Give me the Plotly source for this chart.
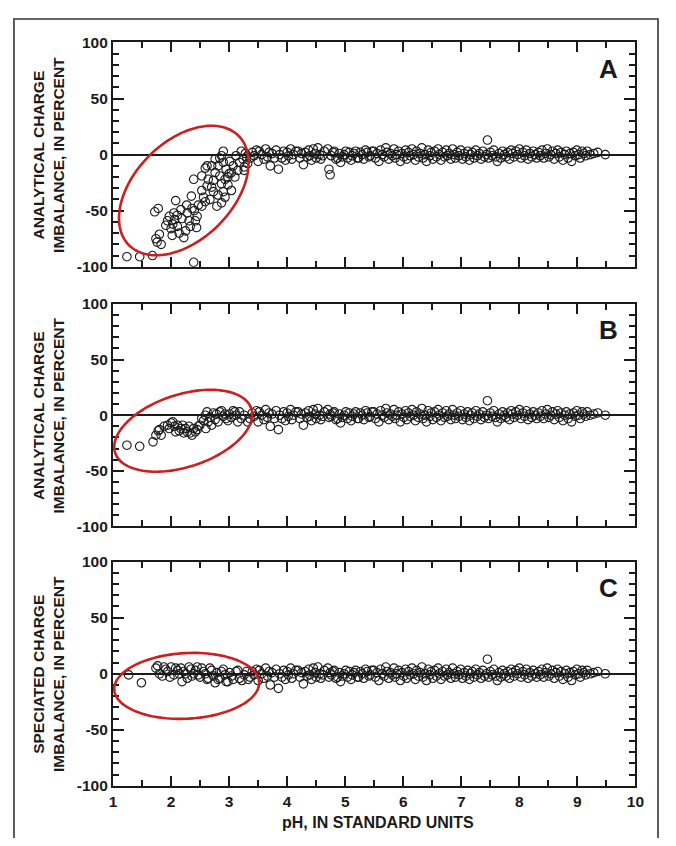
import numpy as np
import plotly.graph_objects as go

# ---------------- data (pH, charge imbalance %) ----------------
# high-pH samples, identical in all three panels
flat_ph = [3.36, 3.40, 3.43, 3.47, 3.50, 3.52, 3.56, 3.60, 3.63, 3.66, 3.69, 3.71, 3.74, 3.78, 3.81,
           3.85, 3.87, 3.91, 3.94, 3.97, 4.00, 4.02, 4.06, 4.08, 4.11, 4.15, 4.19, 4.22, 4.25, 4.28,
           4.31, 4.34, 4.37, 4.39, 4.42, 4.45, 4.48, 4.50, 4.53, 4.56, 4.58, 4.61, 4.64, 4.70,
           4.76, 4.79, 4.81, 4.84, 4.87, 4.90, 4.92, 4.95, 4.98, 5.01, 5.04, 5.07, 5.10, 5.12,
           5.15, 5.18, 5.21, 5.23, 5.26, 5.29, 5.32, 5.35, 5.38, 5.41, 5.43, 5.46, 5.49, 5.52, 5.55,
           5.58, 5.61, 5.64, 5.67, 5.70, 5.72, 5.75, 5.78, 5.81, 5.84, 5.86, 5.89, 5.92, 5.95, 5.98,
           6.01, 6.04, 6.06, 6.09, 6.12, 6.15, 6.18, 6.21, 6.23, 6.26, 6.29, 6.32, 6.34, 6.37, 6.40,
           6.43, 6.46, 6.48, 6.51, 6.54, 6.57, 6.60, 6.62, 6.65, 6.68, 6.71, 6.74, 6.76, 6.79, 6.82,
           6.85, 6.88, 6.90, 6.93, 6.96, 6.99, 7.02, 7.05, 7.08, 7.11, 7.14, 7.16, 7.19, 7.22, 7.25,
           7.28, 7.31, 7.34, 7.37, 7.40, 7.43, 7.45, 7.47, 7.50, 7.53, 7.56, 7.59, 7.62, 7.65, 7.68,
           7.71, 7.74, 7.77, 7.80, 7.83, 7.86, 7.88, 7.91, 7.94, 7.97, 8.00, 8.03, 8.06, 8.09, 8.12,
           8.15, 8.18, 8.21, 8.24, 8.27, 8.30, 8.33, 8.36, 8.39, 8.42, 8.45, 8.48, 8.51, 8.54, 8.57,
           8.60, 8.63, 8.66, 8.69, 8.72, 8.75, 8.78, 8.81, 8.84, 8.87, 8.90, 8.93, 8.96, 8.99, 9.02,
           9.05, 9.08, 9.11, 9.14, 9.17, 9.22, 9.28, 9.35, 9.48]
flat_ci = [-3, 2, -1, 4, -6, 3, 0, -4, 5, -2, 2, -10, 1, -3, 4,
           -13, 0, -3, 3, -5, 2, -1, 5, -4, 0, 3, 3, -3, 1, -9,
           2, -2, 4, -1, -5, 5, 1, -3, 6, 0, -4, -1, 3, 5,
           -1, 2, 3, -4, -3, 1, -7, -2, 0, 3, -3, 2, -5, -1,
           1, 3, -3, -3, 2, 0, -4, 4, 2, -2, -1, 3, 3, -3, 1,
           -6, 4, 0, -2, 6, 2, -4, 1, -1, 5, -3, 0, 3, -6, 1,
           -2, 4, -4, 2, -1, 5, 0, -5, 3, -2, 1, 6, -3, 0, -6,
           4, -1, 2, -4, 3, -2, 5, 0, -5, 2, -2, 4, -1, 1, -4,
           5, 0, -3, 2, -1, 4, -4, 1, -2, 3, -5, 0, 2, -3, 4,
           -1, 1, -4, 3, -2, 0, 13, -3, 2, -1, 4, -2, -6, 1, -3,
           3, 0, -2, 2, -4, 4, 1, -2, 3, 0, 5, -3, 2, -1, 4,
           -4, 1, -2, 3, 0, -3, 2, -1, 4, -3, 1, 5, -2, 0, 3,
           -4, 1, 4, -2, 2, -5, 0, 3, -3, 1, -6, 2, -1, 4, 0,
           -3, 3, 1, -1, 3, 0, 1, 2, 0]

# low-pH samples (plus the two pH-4.7 outliers), panel A (analytical, original)
a_ph = [1.24, 1.46, 1.68, 2.39, 1.72, 1.78, 1.74, 1.83, 1.80, 1.76,
        1.94, 1.97, 2.03, 2.11, 2.17, 2.28, 2.31, 2.25, 2.22, 2.11,
        2.42, 2.45, 2.36, 2.47, 2.53, 2.59, 2.56, 2.53, 2.08, 2.35,
        2.39, 2.53, 2.62, 2.00, 2.06, 2.14, 2.19, 2.33, 2.40, 2.02,
        2.70, 2.73, 2.76, 2.81, 2.84, 2.87, 2.90, 2.81, 2.73, 2.87,
        2.93, 2.79, 3.04, 2.98, 2.90, 2.95, 3.01, 3.07, 3.12, 3.18,
        3.21, 3.24, 3.26, 2.90, 2.87, 2.98, 3.04, 2.93, 2.70, 2.59,
        2.76, 2.64, 2.67, 2.62, 3.15, 3.10, 3.30, 3.32, 3.28, 3.26,
        1.91, 2.05, 2.27, 2.44, 2.84, 3.00, 4.72, 4.74]
a_ci = [-91, -91, -90, -96, -51, -48, -75, -80, -71, -78,
        -59, -55, -62, -54, -49, -52, -59, -68, -74, -64,
        -59, -55, -48, -45, -46, -42, -38, -32, -41, -37,
        -22, -19, -10, -66, -58, -70, -57, -64, -50, -72,
        -29, -23, -16, -10, -19, -26, -33, -36, -33, -43,
        -38, -46, -32, -27, -7, -13, -6, -10, -1, -7,
        3, -4, -11, 3, -1, -20, -16, -22, -10, -12,
        -4, -22, -40, -28, -14, -20, -2, -8, 1, -14,
        -63, -52, -45, -65, -3, -17, -13, -18]

# low-pH samples, panel B (analytical, revised)
b_ph = [1.24, 1.46, 1.69, 1.74, 1.78, 1.80, 1.83, 1.94, 2.00, 2.06,
        2.11, 2.17, 2.22, 2.28, 2.33, 2.39, 2.45, 2.50, 2.53, 2.59,
        2.64, 2.70, 2.76, 2.78, 2.84, 2.90, 2.95, 3.01, 3.07, 3.12,
        3.18, 3.21, 3.15, 3.26, 3.32, 2.03, 2.14, 2.20, 2.25, 2.36,
        2.42, 2.47, 2.56, 2.62, 2.67, 2.73, 2.81, 2.87, 2.93, 2.98,
        3.04, 3.10, 2.60, 2.31, 1.97, 1.88, 2.08, 4.72, 4.74]
b_ci = [-27, -28, -24, -18, -14, -13, -18, -9, -7, -10,
        -9, -12, -16, -15, -16, -12, -13, -9, -3, 0,
        -6, -9, -4, 1, 3, -1, -3, 1, 4, 0,
        3, -3, -6, 0, -6, -6, -14, -9, -12, -18,
        -15, -10, -5, 3, -2, 2, -6, 4, 1, -5,
        -2, 3, -12, -10, -12, -10, -15, -2, 1]

# low-pH samples, panel C (speciated)
c_ph = [1.27, 1.49, 1.74, 1.80, 1.88, 1.94, 2.00, 2.05, 2.11, 2.19,
        2.17, 2.25, 2.31, 2.36, 2.42, 2.47, 2.53, 2.59, 2.64, 2.70,
        2.76, 2.81, 2.87, 2.93, 2.98, 3.04, 3.12, 3.18, 3.26, 3.33,
        1.77, 1.85, 1.91, 1.98, 2.08, 2.14, 2.22, 2.28, 2.34, 2.39,
        2.45, 2.50, 2.56, 2.62, 2.67, 2.73, 2.79, 2.84, 2.90, 2.95,
        3.01, 3.07, 3.15, 3.22, 3.30, 4.72, 4.74]
c_ci = [-1, -8, 5, 0, 6, 2, 6, -1, 3, -7,
        5, 0, 6, -2, 3, -1, 5, 0, -4, 3,
        -8, -5, 2, -1, -7, -2, 2, -4, -1, -5,
        7, -2, 4, -3, 5, 0, 2, -4, 4, 0,
        6, -3, 2, -5, 5, -2, 1, -4, 4, -7,
        1, -5, 3, -6, 2, -3, 1]

# axis tick labels (plain hyphen minus, as in the original)
y_tickvals = [-100, -50, 0, 50, 100]
y_ticktext = ["-100", "-50", "0", "50", "100"]

y_titles = ["ANALYTICAL CHARGE<br>IMBALANCE, IN PERCENT",
            "ANALYTICAL CHARGE<br>IMBALANCE, IN PERCENT",
            "SPECIATED CHARGE<br>IMBALANCE, IN PERCENT"]
panel_letters = ["A", "B", "C"]
x_title = "pH, IN STANDARD UNITS"

# ellipse highlights: centre (pH, %), semi-axes in px, tilt in degrees
ellipses = [(2.22, -32.0, 79, 50, 45),
            (2.21, -14.0, 73, 37, 18),
            (2.27, -10.8, 74, 33.5, 3)]

# ---------------- layout geometry ----------------
# the page body keeps its default 8px margin, so the figure is sized to
# fill the 676x846 window exactly and all page positions are offset by it
PAGE_W, PAGE_H = 676, 846
OFF = 8
W, H = PAGE_W - 2 * OFF, PAGE_H - 2 * OFF


def px(xp):
    return (xp - OFF) / W


def py(yp):
    return 1 - (yp - OFF) / H


X0, X1 = 111, 644
rows = [(34, 263), (301, 528), (564, 793)]
FONT = "Liberation Sans, Arial, Helvetica, sans-serif"
INK = "#1a1a1a"
RED = "#cc1f1f"

fig = go.Figure()
datasets = [(a_ph + flat_ph, a_ci + flat_ci),
            (b_ph + flat_ph, b_ci + flat_ci),
            (c_ph + flat_ph, c_ci + flat_ci)]

shapes = []
annotations = []
xdom = [px(X0), px(X1)]
tickfont = dict(family=FONT, size=15.5, color=INK, weight="bold")
for i, ((top, bot), (xs, ys)) in enumerate(zip(rows, datasets)):
    n = "" if i == 0 else str(i + 1)
    fig.add_trace(go.Scatter(
        x=xs, y=ys, mode="markers", xaxis="x" + n, yaxis="y" + n,
        marker=dict(symbol="circle-open", size=8.5, color=INK, line=dict(width=1.1, color=INK)),
        showlegend=False, hoverinfo="x+y"))
    ydom = [py(bot), py(top)]
    last = i == 2
    fig.layout["xaxis" + n] = dict(
        domain=xdom, anchor="y" + n, range=[1, 10], dtick=1, tick0=1,
        ticks="inside", ticklen=10, tickwidth=2, tickcolor=INK,
        minor=dict(dtick=0.5, ticks="inside", ticklen=6, tickwidth=1.6, tickcolor=INK),
        showline=True, linewidth=2, linecolor=INK, mirror="allticks",
        showgrid=False, zeroline=False, showticklabels=last,
        tickfont=tickfont, fixedrange=True)
    fig.layout["yaxis" + n] = dict(
        domain=ydom, anchor="x" + n, range=[-100, 100],
        tickmode="array", tickvals=y_tickvals, ticktext=y_ticktext,
        ticks="inside", ticklen=11, tickwidth=2, tickcolor=INK,
        minor=dict(dtick=10, tick0=0, ticks="inside", ticklen=6, tickwidth=1.6, tickcolor=INK),
        showline=True, linewidth=2, linecolor=INK, mirror="allticks",
        showgrid=False, zeroline=True, zerolinecolor=INK, zerolinewidth=2,
        tickfont=tickfont, fixedrange=True)

    # red highlight ellipse, built in pixel space then mapped to data units
    cx, cy, a, b, ang = ellipses[i]
    sx = (X1 - X0) / 9.0
    sy = (bot - top) / 200.0
    t = np.linspace(0, 2 * np.pi, 121)
    th = np.radians(ang)
    dx = a * np.cos(t) * np.cos(th) - b * np.sin(t) * np.sin(th)
    dy = a * np.cos(t) * np.sin(th) + b * np.sin(t) * np.cos(th)
    ex = cx + dx / sx
    ey = cy + dy / sy
    path = "M " + " L ".join(f"{u:.4f},{v:.4f}" for u, v in zip(ex, ey)) + " Z"
    shapes.append(dict(type="path", path=path, xref="x" + n, yref="y" + n,
                       line=dict(color=RED, width=2.6), layer="above"))

    annotations.append(dict(text="<b>" + y_titles[i].replace("<br>", "</b><br><b>") + "</b>",
                            x=px(45), y=py((top + bot) / 2),
                            xref="paper", yref="paper",
                            textangle=-90, showarrow=False, xanchor="center", yanchor="middle",
                            font=dict(family=FONT, size=15.5, color=INK)))
    annotations.append(dict(text="<b>" + panel_letters[i] + "</b>", x=px(616),
                            y=py(top + 27), xref="paper", yref="paper",
                            showarrow=False, xanchor="center", yanchor="middle",
                            font=dict(family=FONT, size=26, color=INK)))

annotations.append(dict(text="<b>" + x_title + "</b>", x=px(381), y=py(830),
                        xref="paper", yref="paper", showarrow=False,
                        xanchor="center", yanchor="middle",
                        font=dict(family=FONT, size=16, color=INK)))

# outer frame of the figure
shapes.append(dict(type="rect", xref="paper", yref="paper",
                   x0=px(10), x1=px(667), y0=-0.05, y1=py(10),
                   line=dict(color="#333", width=1.6)))

fig.update_layout(width=W, height=H, margin=dict(l=0, r=0, t=0, b=0),
                  paper_bgcolor="white", plot_bgcolor="white",
                  shapes=shapes, annotations=annotations,
                  font=dict(family=FONT, color=INK))
fig.write_html("out.html", config={"displayModeBar": False})
